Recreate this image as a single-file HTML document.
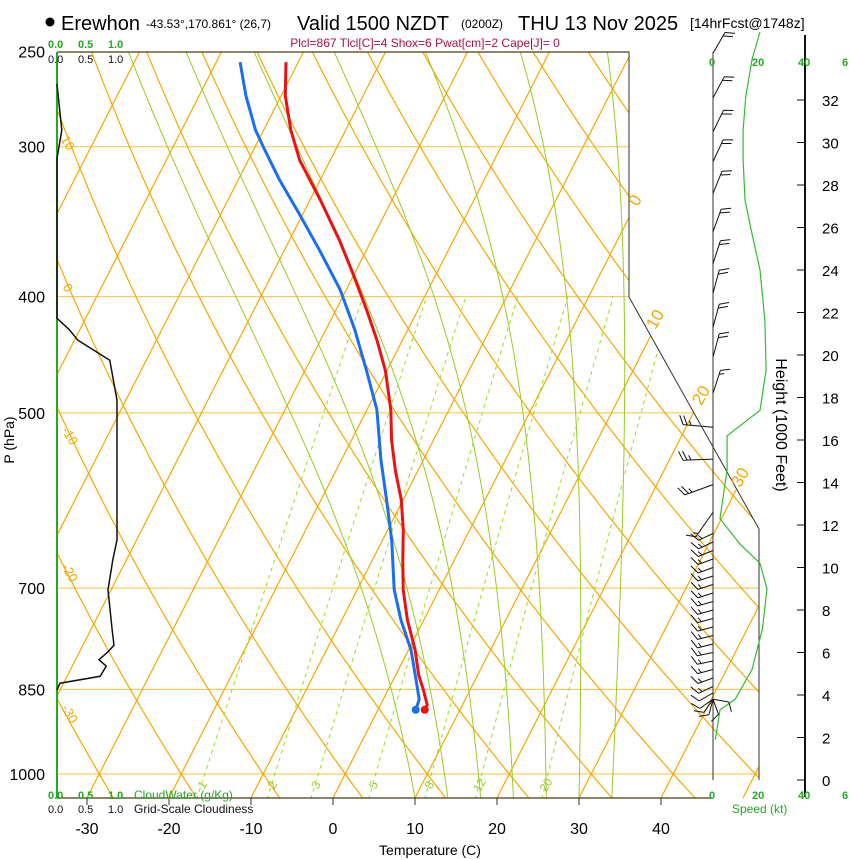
<!DOCTYPE html>
<html><head><meta charset="utf-8"><style>
html,body{margin:0;padding:0;background:#fff;}
body{position:relative;width:850px;height:860px;overflow:hidden}
svg{display:block;font-family:"Liberation Sans",sans-serif;}
</style></head><body>
<svg id="chart" width="850" height="860" viewBox="0 0 850 860" xmlns="http://www.w3.org/2000/svg" style="position:absolute;left:0;top:0">
<defs><clipPath id="plotclip"><polygon points="57,52 629,52 629,297 759,529 759,798 57,798"/></clipPath></defs>
<g>
<circle cx="50" cy="22" r="4.5" fill="#000"/>
<text x="61" y="30" font-size="20">Erewhon</text>
<text x="146" y="28" font-size="12">-43.53°,170.861° (26,7)</text>
<text x="297" y="30" font-size="20">Valid 1500 NZDT</text>
<text x="461" y="28" font-size="12">(0200Z)</text>
<text x="518" y="30" font-size="20">THU 13 Nov 2025</text>
<text x="690" y="28" font-size="14">[14hrFcst@1748z]</text>
</g>
<text x="425" y="47" font-size="12" fill="#b0104a" text-anchor="middle">Plcl=867 Tlcl[C]=4 Shox=6 Pwat[cm]=2 Cape[J]= 0</text>
<g id="grid" clip-path="url(#plotclip)"></g>
<g id="overlay"></g>
</svg>
<script>
// ---- data ----
const isotherms = [-100,-90,-80,-70,-60,-50,-40,-30,-20,-10,0,10,20,30,40,50];
const dryAdiabats = [-40,-30,-20,-10,0,10,20,30,40,50,60,70,80,90,100,110,120,130,140,150,160];
const moistStarts = [10,14,18,22,26,30,34];
const mixRatios = [1,2,3,5,8,12,20];
const pressureTicks = [250,300,400,500,700,850,1000];
const tempTicks = [-30,-20,-10,0,10,20,30,40];
const tempP = [255,272,290.5,308,332,359,384,410,435,461,497,527,558,591,626,663,702,744,788,827,851,876,884];
const tempT = [-51.5,-49.5,-46.7,-43.7,-38.8,-33.9,-30.0,-26.3,-23.1,-20.2,-17.1,-15.1,-12.8,-10.2,-8.1,-6.3,-4.4,-2.0,0.8,2.8,4.3,5.7,5.7];
const dewP = [255,272,290.5,302,320,342,366,395,426,461,497,547,591,638,702,744,788,837,867,884];
const dewT = [-57.1,-54.3,-51.0,-48.6,-44.9,-40.3,-35.7,-30.7,-26.5,-22.5,-18.8,-15.2,-12.0,-8.9,-5.5,-2.8,0.3,2.9,4.4,4.6];
const cloudP = [266,290.5,307,417,426,435,452,488,638,663,702,759,781,791,803,813,829,840,851];
const cloudF = [0,0.08,0,0,0.2,0.35,0.88,1.0,1.0,0.93,0.85,0.92,0.95,0.85,0.7,0.82,0.72,0.05,0];
const speedH = [35.2,33.9,32.2,30.6,29.2,27.3,25.9,24.0,21.6,19.3,17.4,16.2,14.6,12.3,11.1,10.2,9.0,7.1,5.2,3.8,3.3,1.9];
const speedKt = [20,16.6,14,12.8,12.8,13.6,16.2,20,22.1,22.6,20,6,6,3,11.5,20,23,21,16.6,9.4,3,1];
const barbH = [34.2,32.1,30.5,29.1,27.6,25.8,24.3,22.9,21.3,19.9,18.2,16.6,15.1,13.9,12.6,11.6,11.2,10.8,10.4,10.0,9.6,9.2,8.8,8.4,8.0,7.6,7.2,6.8,6.4,6.0,5.6,5.2,4.8,4.4,4.1,3.8,3.8,3.8,3.8,3.8];
const barbDir = [30,28,26,25,22,20,18,15,15,15,18,275,268,250,215,245,245,248,250,250,252,252,252,254,254,255,255,256,256,258,258,255,250,245,240,235,215,195,160,100];
const barbKt = [20,20,20,20,20,20,20,20,20,20,15,25,25,25,15,15,15,15,15,15,15,15,15,15,15,15,15,15,15,15,15,15,15,15,10,10,10,10,10,10];
const heightTicks = [0,2,4,6,8,10,12,14,16,18,20,22,24,26,28,30,32];

// ---- axes ----
const Y = p => 774 + 521*Math.log(p/1000);
const X = (T,p) => 333 + 8.2*T + 0.51*(798 - Y(p));
const HY = h => 780 - 21.25*h;
const SX = s => 713 + 2.35*s;
const NS="http://www.w3.org/2000/svg";
const grid=document.getElementById('grid'), ov=document.getElementById('overlay');
function mk(tag,attrs,parent){const e=document.createElementNS(NS,tag);for(const k in attrs)e.setAttribute(k,attrs[k]);parent.appendChild(e);return e;}
function pathFrom(pts){return pts.map((q,i)=>(i?'L':'M')+q[0].toFixed(1)+','+q[1].toFixed(1)).join('');}
const pList=[];for(let p=1050;p>=240;p-=5)pList.push(p);

pressureTicks.forEach(p=>{
 const l=mk('line',{x1:57,x2:800,y1:Y(p),y2:Y(p),stroke:'#f7c040','stroke-width':1},grid);
 
 
});
isotherms.forEach(T=>{
 const l=mk('line',{x1:X(T,1050),y1:Y(1050),x2:X(T,240),y2:Y(240),stroke:'#f5a800','stroke-width':1.2},grid);
 
 
});
dryAdiabats.forEach(th=>{
 const pts=pList.map(p=>[X((th+273.15)*Math.pow(p/1000,0.2857)-273.15,p),Y(p)]);
 const e=mk('path',{d:pathFrom(pts),fill:'none',stroke:'#f5a800','stroke-width':1.2},grid);
 
 
});
function es(Tc){return 6.112*Math.exp(17.67*Tc/(Tc+243.5));}
moistStarts.forEach(t0=>{
 let T=t0+273.15,p=1047;const pts=[[X(t0,p),Y(p)]];
 while(p>245){const rs=0.622*es(T-273.15)/(p-es(T-273.15));
  const dTdp=(287*T+2.5e6*rs)/(p*(1004+2.5e6*2.5e6*rs*0.622/(287*T*T)));
  T-=dTdp*5;p-=5;pts.push([X(T-273.15,p),Y(p)]);}
 const e=mk('path',{d:pathFrom(pts),fill:'none',stroke:'#99cc22','stroke-width':1},grid);
 
 
});
mixRatios.forEach(w=>{
 const pts=[];for(let p=1050;p>=400;p-=10){const e=w*p/(622+w),L=Math.log(e/6.112);pts.push([X(243.5*L/(17.67-L),p),Y(p)]);}
 const e=mk('path',{d:pathFrom(pts),fill:'none',stroke:'#99dd22','stroke-width':1,'stroke-dasharray':'4,4'},grid);
 
 
 const e2=w*1015/(622+w),L2=Math.log(e2/6.112),lx=X(243.5*L2/(17.67-L2),1015);
 const t=mk('text',{x:lx,y:789,'font-size':12,fill:'#99cc22','text-anchor':'middle',transform:`rotate(-60 ${lx} 785)`},ov);
 t.textContent=w;
 
 
});
mk('polyline',{points:'57,52 629,52 629,297 759,529 759,780',fill:'none',stroke:'#333','stroke-width':1},ov);
mk('line',{x1:57,y1:52,x2:629,y2:52,stroke:'#4a3a10','stroke-width':1.2},ov);
mk('line',{x1:57,y1:798,x2:712,y2:798,stroke:'#4a3a10','stroke-width':1.2},ov);
mk('line',{x1:57,y1:52,x2:57,y2:798,stroke:'#22aa22','stroke-width':2},ov);
[[0,640,203],[10,660,322],[20,706,398],[30,745,480]].forEach(a=>{const t=mk('text',{x:a[1],y:a[2],'font-size':17,fill:'#f5a800','text-anchor':'middle',transform:`rotate(-60 ${a[1]} ${a[2]})`},ov);t.textContent=a[0];
 
 });
[[10,64,145],[0,64,290],[-10,66,438],[-20,66,575],[-30,66,716]].forEach(a=>{const t=mk('text',{x:a[1],y:a[2],'font-size':13,fill:'#f5a800','text-anchor':'middle',transform:`rotate(60 ${a[1]} ${a[2]})`},ov);t.textContent=a[0];
 
 });
{const pts=cloudP.map((p,i)=>[57+60*cloudF[i],Y(p)]);
 const e=mk('path',{d:pathFrom(pts),fill:'none',stroke:'#111','stroke-width':1.5},ov);
 
 }
function prof(P,T,col,name){const pts=P.map((p,i)=>[X(T[i],p),Y(p)]);
 const e=mk('path',{d:pathFrom(pts),fill:'none',stroke:col,'stroke-width':3,'stroke-linejoin':'round'},ov);
 
 
 const l=pts[pts.length-1];const c=mk('circle',{cx:l[0],cy:l[1],r:4,fill:col},ov);
 
 }
prof(dewP,dewT,'#1a6ff0','dewpoint');
prof(tempP,tempT,'#ee1111','temperature');
pressureTicks.forEach(p=>{const t=mk('text',{x:45,y:Y(p)+6,'font-size':16,'text-anchor':'end'},ov);t.textContent=p;
 
 });
tempTicks.forEach(T=>{const x=333+8.2*T;mk('line',{x1:x,x2:x,y1:798,y2:805,stroke:'#333'},ov);
 const t=mk('text',{x:x,y:834,'font-size':16,'text-anchor':'middle'},ov);t.textContent=T;
 
 });
mk('line',{x1:713,y1:52,x2:713,y2:780,stroke:'#333','stroke-width':1},ov);
{const pts=speedH.map((h,i)=>[SX(speedKt[i]),HY(h)]);
 const e=mk('path',{d:pathFrom(pts),fill:'none',stroke:'#33bb33','stroke-width':1.2},ov);
 
 }
barbH.forEach((h,i)=>{
 const d=barbDir[i]*Math.PI/180,len=i<11?24:(i<15?30:16);
 const bx=713,by=HY(h),tx=bx+len*Math.sin(d),ty=by-len*Math.cos(d);
 let s=`M${bx},${by}L${tx.toFixed(1)},${ty.toFixed(1)}`;
 let kt=barbKt[i],k=0;const fd=d+65*Math.PI/180;
 while(kt>=5){const fl=kt>=10?10:5;const ox=tx-k*4*Math.sin(d),oy=ty+k*4*Math.cos(d);
  s+=`M${ox.toFixed(1)},${oy.toFixed(1)}l${(fl*Math.sin(fd)).toFixed(1)},${(-fl*Math.cos(fd)).toFixed(1)}`;kt-=fl;k++;}
 const e=mk('path',{d:s,fill:'none',stroke:'#111','stroke-width':1},ov);
 
 
});
mk('line',{x1:805,y1:35,x2:805,y2:797,stroke:'#111','stroke-width':2},ov);
heightTicks.forEach(h=>{mk('line',{x1:797,x2:805,y1:HY(h),y2:HY(h),stroke:'#111'},ov);
 const t=mk('text',{x:822,y:HY(h)+6,'font-size':15},ov);t.textContent=h;
 
 });
</script>
<svg width="850" height="860" style="position:absolute;left:0;top:0">
<g font-family="Liberation Sans, sans-serif">
<g font-size="11" fill="#22aa22" font-weight="bold"><text x="48" y="48">0.0</text><text x="78" y="48">0.5</text><text x="108" y="48">1.0</text>
<text x="48" y="799">0.0</text><text x="78" y="799">0.5</text><text x="108" y="799">1.0</text>
<text x="134" y="799" font-weight="normal" font-size="12">CloudWater (g/Kg)</text>
<text x="709" y="66">0</text><text x="752" y="66">20</text><text x="798" y="66">40</text><text x="842" y="66">6</text>
<text x="709" y="799">0</text><text x="752" y="799">20</text><text x="798" y="799">40</text><text x="842" y="799">6</text>
<text x="732" y="813" font-weight="normal" font-size="12">Speed (kt)</text></g>
<g font-size="11" fill="#111"><text x="48" y="63">0.0</text><text x="78" y="63">0.5</text><text x="108" y="63">1.0</text>
<text x="48" y="813">0.0</text><text x="78" y="813">0.5</text><text x="108" y="813">1.0</text>
<text x="134" y="813" font-size="12">Grid-Scale Cloudiness</text></g>
<text x="14" y="440" font-size="14" text-anchor="middle" transform="rotate(-90 14 440)">P (hPa)</text>
<text x="430" y="855" font-size="14" text-anchor="middle">Temperature (C)</text>
<text x="776" y="425" font-size="16" text-anchor="middle" transform="rotate(90 776 425)">Height (1000 Feet)</text>
</g></svg>
</body></html>
